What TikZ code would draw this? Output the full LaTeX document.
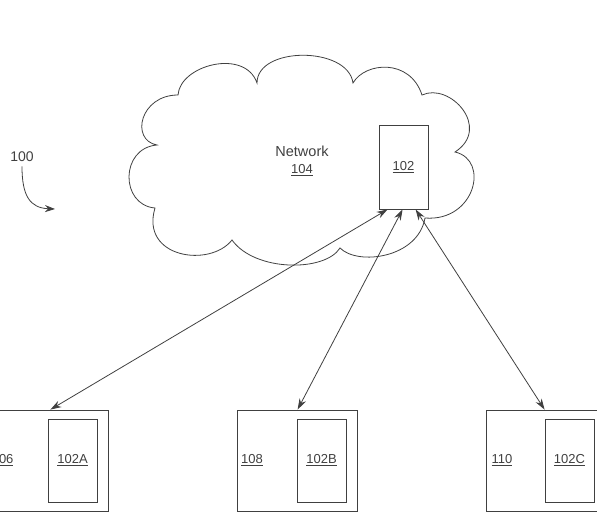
\documentclass[tikz,border=0pt]{standalone}
\usepackage{fontspec}
\setmainfont{Liberation Sans}
\usetikzlibrary{arrows.meta,calc}
\begin{document}
\begin{tikzpicture}[x=1pt,y=-1pt,
  ln/.style={draw=black!75, line width=0.8pt},
  box/.style={ln, inner sep=0pt},
  lbl/.style={font=\fontsize{13}{15}\selectfont, text=black!75},
  tip/.tip={Stealth[length=11pt,width=7pt]},
  dbl/.style={ln, tip-tip},
]
\useasboundingbox (0,0) rectangle (597,523);
% cloud
\draw[ln] (257,83)
  .. controls (257,46) and (348,46) .. (353,83)
  .. controls (365,62) and (410,58) .. (422,95)
  .. controls (450,82) and (492,128) .. (455,152)
  .. controls (490,160) and (475,222) .. (425,218)
  .. controls (418,258) and (358,266) .. (340,248)
  .. controls (325,272) and (255,272) .. (232,240)
  .. controls (210,268) and (140,258) .. (155,208)
  .. controls (120,205) and (120,148) .. (157,145)
  .. controls (130,140) and (140,95) .. (178,95)
  .. controls (180,65) and (245,48) .. (257,83) -- cycle;
\node[font=\fontsize{14.5}{17}\selectfont, text=black!75] (net) at (302,151) {Network};
\node[lbl] (n104) at (302,170) {\underline{104}};
% device in network
\node[box, lbl, minimum width=49pt, minimum height=84pt] (b102) at (403.5,167) {\underline{102}};
% bottom boxes
\node[box, minimum width=128pt, minimum height=101pt] (b106) at (44,460.5) {};
\node[box, minimum width=120pt, minimum height=101pt] (b108) at (297,460.5) {};
\node[box, minimum width=124pt, minimum height=101pt] (b110) at (548,460.5) {};
\node[box, lbl, minimum width=49pt, minimum height=83pt] (b102a) at (72.5,460.5) {\underline{102A}};
\node[box, lbl, minimum width=49pt, minimum height=83pt] (b102b) at (321.5,460.5) {\underline{102B}};
\node[box, lbl, minimum width=49pt, minimum height=83pt] (b102c) at (569.5,460.5) {\underline{102C}};
\node[lbl, anchor=east] (t106) at (17,460) {\underline{106}};
\node[lbl] (t108) at (252,460) {\underline{108}};
\node[lbl] (t110) at (502,460) {\underline{110}};
% connectors
\draw[dbl] ([xshift=9pt]b102.south west) -- ([xshift=-58pt]b106.north east);
\draw[dbl] ([xshift=24pt]b102.south west) -- ([xshift=61pt]b108.north west);
\draw[dbl] ([xshift=37pt]b102.south west) -- ([xshift=59pt]b110.north west);
% reference numeral
\node[font=\fontsize{14}{16}\selectfont, text=black!75] (t100) at (22,157) {100};
\coordinate (a100) at (55,209);
\draw[ln, -{Stealth[length=10pt,width=7pt]}] ([yshift=-1pt]t100.south) .. controls (22,196) and (30,208) .. (a100);
\end{tikzpicture}
\end{document}
